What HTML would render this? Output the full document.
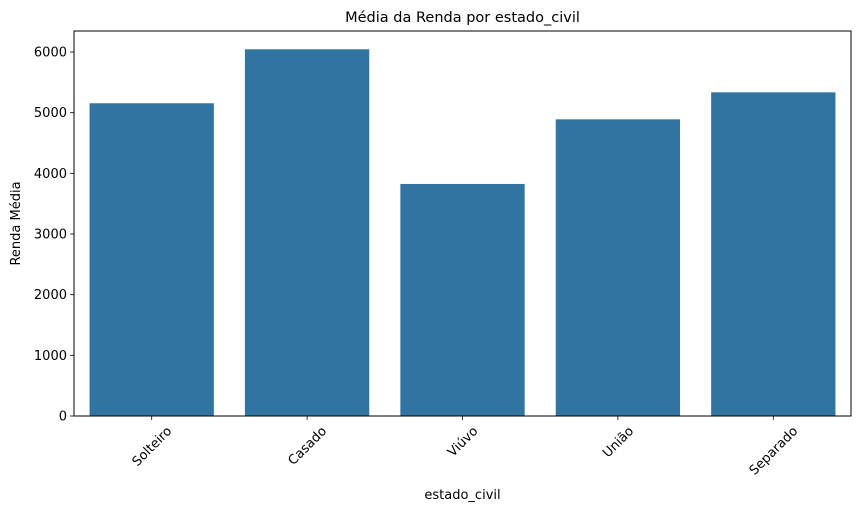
<!DOCTYPE html>
<html><head><meta charset="utf-8"><style>
body{margin:0;background:#fff;font-family:"Liberation Sans","DejaVu Sans",sans-serif;}
</style></head><body>
<svg id="chart" width="859" height="512" xmlns="http://www.w3.org/2000/svg" font-family="DejaVu Sans, Liberation Sans, sans-serif">
<rect width="859" height="512" fill="#fff"/>
<g id="bars"></g>
<g id="axes"></g>
</svg>
<script>
const categories = ["Solteiro","Casado","Viúvo","União","Separado"];
const values = [5155, 6045, 3825, 4890, 5335];
const yTicks = [0,1000,2000,3000,4000,5000,6000];
const L=74,R=851,T=31,B=416,yMax=(B-T)/364*6000;
const ns="http://www.w3.org/2000/svg";
const y=v=>B-v/yMax*(B-T);
const band=(R-L)/categories.length;
const x=i=>L+band*i+band/2;
function mk(t,a,p){const e=document.createElementNS(ns,t);for(const k in a)e.setAttribute(k,a[k]);(p).appendChild(e);return e;}
const bars=document.getElementById('bars'),axes=document.getElementById('axes');
values.forEach((v,i)=>{
 const r=mk('rect',{x:x(i)-band*0.4,y:y(v),width:band*0.8,height:B-y(v),fill:'#3274a1'},bars);
 
 
});
const fr=mk('rect',{x:L,y:T,width:R-L,height:B-T,fill:'none',stroke:'#000','stroke-width':1},axes);


yTicks.forEach(t=>{
 mk('line',{x1:L-4,x2:L,y1:y(t),y2:y(t),stroke:'#000','stroke-width':0.8},axes);
 const tx=mk('text',{x:L-7,y:y(t)+4.5,'text-anchor':'end','font-size':13},axes);
 tx.textContent=t;
 
 
});
categories.forEach((c,i)=>{
 mk('line',{x1:x(i),x2:x(i),y1:B,y2:B+4,stroke:'#000','stroke-width':0.8},axes);
 const tx=mk('text',{x:x(i),y:0,'text-anchor':'middle','font-size':13},axes);
 tx.textContent=c;
 
 
 const w=tx.getComputedTextLength(),h=13;
 const cy=B+8+(w+h)*0.7071/2;
 tx.setAttribute('y',cy+4.5);
 tx.setAttribute('transform',`rotate(-45 ${x(i)} ${cy})`);
});
const tt=mk('text',{x:(L+R)/2,y:22,'text-anchor':'middle','font-size':14.5},axes);
tt.textContent='Média da Renda por estado_civil';


const xt=mk('text',{x:(L+R)/2,y:499,'text-anchor':'middle','font-size':13},axes);
xt.textContent='estado_civil';


const yt=mk('text',{x:20,y:(T+B)/2,'text-anchor':'middle','font-size':13,transform:`rotate(-90 20 ${(T+B)/2})`},axes);
yt.textContent='Renda Média';


</script>
</body></html>
